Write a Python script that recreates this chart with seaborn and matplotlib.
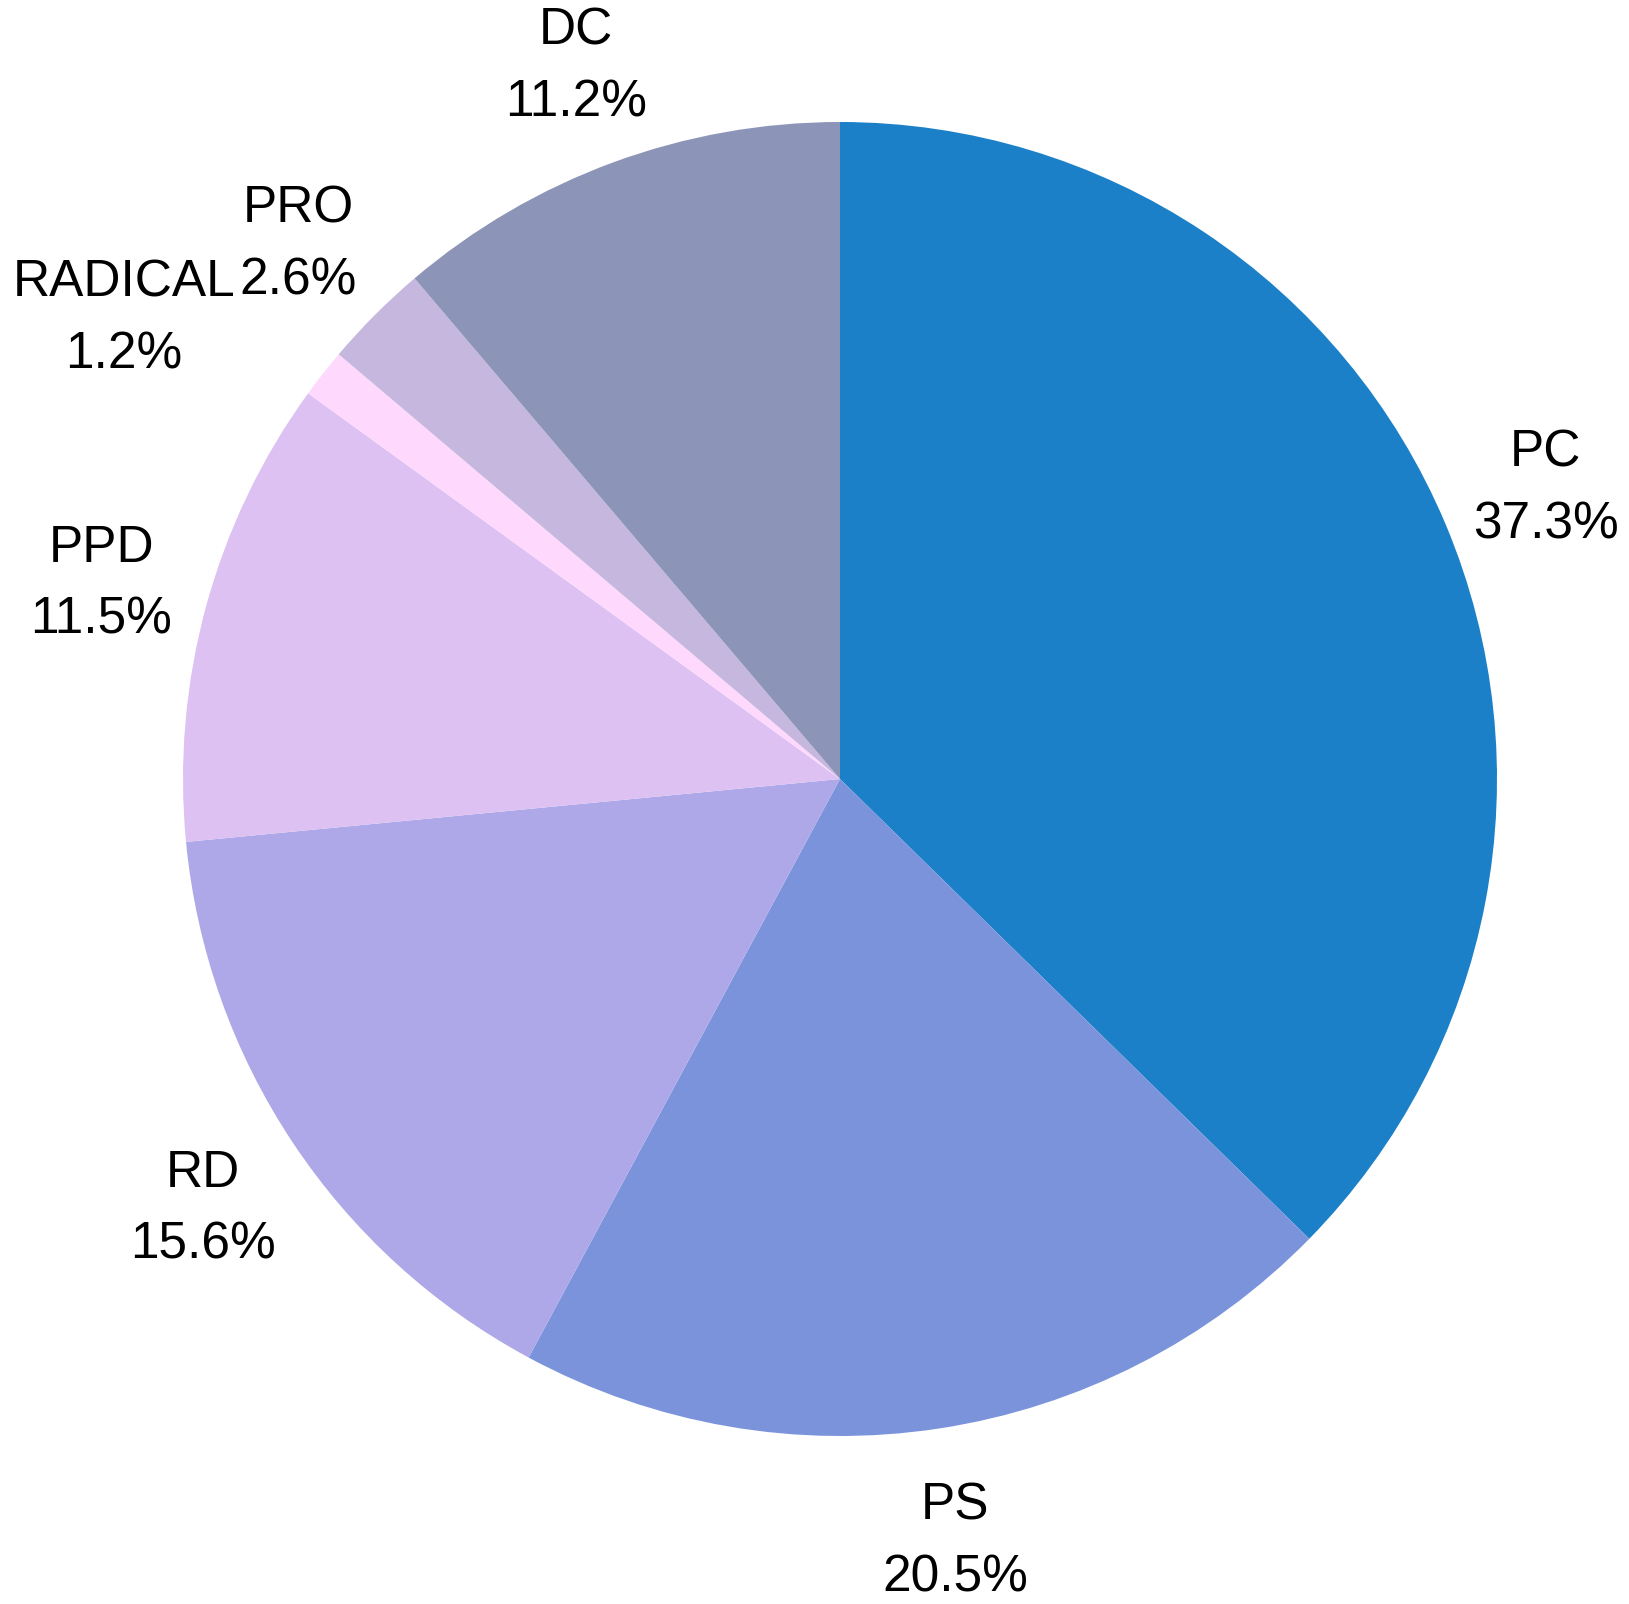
import matplotlib
matplotlib.use("Agg")
import matplotlib.pyplot as plt
import seaborn as sns

labels = ["PC", "PS", "RD", "PPD", "RADICAL", "PRO", "DC"]
shares = [37.3, 20.5, 15.6, 11.5, 1.2, 2.6, 11.2]
colors = ["#1c80c8", "#7a93db", "#aea8e8", "#dcc1f2", "#ffd9fd", "#c6b7de", "#8c95b8"]

sns.set_style("white")
plt.rcParams['font.family'] = ['Liberation Sans', 'DejaVu Sans']

fig = plt.figure(figsize=(16.29, 16.04), dpi=100)
ax = fig.add_axes([0, 0, 1, 1])

texts = [f"{l}\n{s}%" for l, s in zip(labels, shares)]
wedges, txts = ax.pie(shares, labels=texts, colors=colors, startangle=90,
                      counterclock=False, labeldistance=1.165,
                      wedgeprops=dict(linewidth=0),
                      textprops=dict(fontsize=37, ha='center', va='center',
                                     linespacing=1.6, color='black'))

# nudge labels down a touch
for t in txts:
    x, y = t.get_position()
    t.set_position((x, y - 0.01))

# the RADICAL label sits further out to clear PRO
txts[4].set_position((-1.09, 0.70))

# radius 1 -> 657 px, centre at (840, 779) px
ax.set_aspect('auto')
ax.set_xlim(-840 / 657, (1629 - 840) / 657)
ax.set_ylim(-(1604 - 779) / 657, 779 / 657)
ax.axis('off')

fig.savefig("out.png", dpi=100)
